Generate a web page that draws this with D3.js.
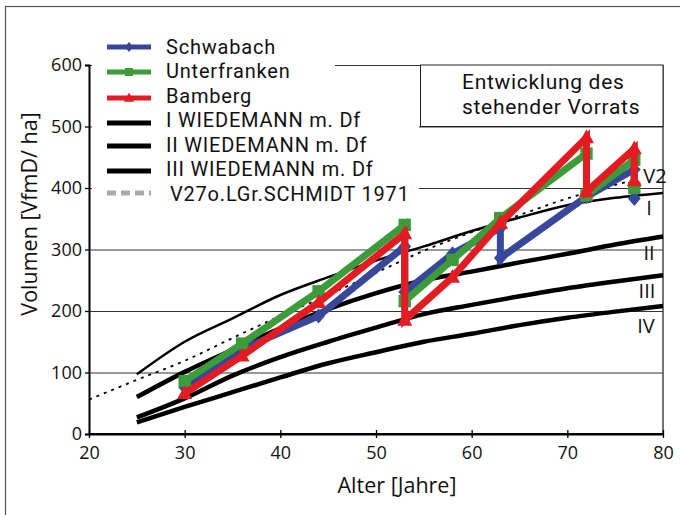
<!DOCTYPE html>
<html><head><meta charset="utf-8">
<script src="https://cdn.jsdelivr.net/npm/d3@7"></script>
<style>
html,body{margin:0;padding:0;background:#fff;}
svg{display:block;font-family:"Open Sans",sans-serif;}
</style></head>
<body>
<svg id="chart" width="680" height="515"></svg>
<script>
// ---------- data ----------
const ages = [30, 36, 44, 53, 53, 58, 63, 63, 72, 72, 77, 77];
const schwabach    = [76, 138, 192, 305, 231, 293, 335, 286, 386, 386, 430, 383];
const unterfranken = [86, 147, 232, 340, 216, 283, 351, 351, 456, 388, 446, 400];
const bamberg      = [66, 127, 214, 326, 185, 255, 343, 343, 482, 394, 464, 412];

const refAges = [25, 30, 35, 40, 45, 50, 55, 60, 65, 70, 75, 80];
const wiedemannI   = [97, 150, 188, 226, 255, 282, 305, 330, 352, 372, 384, 392];
const wiedemannII  = [60, 101, 137, 172, 203, 229, 250, 264, 279, 293, 308, 321];
const wiedemannIII = [27, 58, 95, 125, 150, 173, 195, 210, 224, 237, 248, 258];
const wiedemannIV  = [19, 44, 68, 92, 115, 133, 150, 163, 177, 189, 199, 208];

const schmidtAges = [20, 25, 30, 35, 40, 45, 50, 55, 60, 65, 70, 75, 77];
const schmidtV2   = [56, 88, 119, 156, 192, 226, 262, 298, 328, 356, 383, 405, 413];

const xTicks = [20, 30, 40, 50, 60, 70, 80];
const yTicks = [0, 100, 200, 300, 400, 500, 600];

const legendLabels = ["Schwabach", "Unterfranken", "Bamberg",
  "I WIEDEMANN m. Df", "II WIEDEMANN m. Df", "III WIEDEMANN m. Df", "V27o.LGr.SCHMIDT 1971"];
const curveLabels = ["V2", "I", "II", "III", "IV"];
const titleLines = ["Entwicklung des", "stehender Vorrats"];

// ---------- setup ----------
const svg = d3.select("#chart");
const L = 89, R = 663, T = 65, B = 434;
const x = d3.scaleLinear().domain([20, 80]).range([L, R]);
const y = d3.scaleLinear().domain([0, 600]).range([B, T]);

const BLUE = "#36479c", GREEN = "#3c9c3a", RED = "#e31b23";

// outer frame
svg.append("rect").attr("x", 5.5).attr("y", 6.5).attr("width", 720).attr("height", 560)
  .attr("fill", "none").attr("stroke", "#555").attr("stroke-width", 1.2);

// gridlines
svg.append("g").attr("transform", `translate(${L},0)`)
  .call(d3.axisRight(y).tickValues(yTicks.slice(1)).tickSize(R - L).tickFormat(""))
  .call(g => g.select(".domain").remove())
  .call(g => g.selectAll("line").attr("stroke", "#333").attr("stroke-width", 1));

// right border
svg.append("line").attr("x1", R).attr("x2", R).attr("y1", T).attr("y2", B)
  .attr("stroke", "#444").attr("stroke-width", 1.5);

// reference curves
const refLine = d3.line().x((d, i) => x(refAges[i])).y(d => y(d)).curve(d3.curveMonotoneX);
const refs = [[wiedemannI, 2.5], [wiedemannII, 4.5], [wiedemannIII, 4.5], [wiedemannIV, 4.5]];
refs.forEach(([vals, w]) => {
  svg.append("path").attr("d", refLine(vals)).attr("fill", "none")
    .attr("stroke", "#000").attr("stroke-width", w).attr("stroke-linejoin", "round");
});
const schLine = d3.line().x((d, i) => x(schmidtAges[i])).y(d => y(d)).curve(d3.curveMonotoneX);
svg.append("path").attr("d", schLine(schmidtV2)).attr("fill", "none")
  .attr("stroke", "#000").attr("stroke-width", 1.8).attr("stroke-dasharray", "3,5");

// symbols
function diamond(s) { return `M0,${-s}L${s*0.85},0L0,${s}L${-s*0.85},0Z`; }
function square(s) { return `M${-s},${-s}H${s}V${s}H${-s}Z`; }
function triangle(s) { return `M0,${-s*1.1}L${s},${s*0.75}L${-s},${s*0.75}Z`; }

const seriesDefs = [
  {vals: schwabach, color: BLUE, sym: diamond, size: 7.5},
  {vals: unterfranken, color: GREEN, sym: square, size: 6.2},
  {vals: bamberg, color: RED, sym: triangle, size: 7.5}
];
const dataLine = d3.line().x((d, i) => x(ages[i])).y(d => y(d));
seriesDefs.forEach(s => {
  const g = svg.append("g");
  g.append("path").attr("d", dataLine(s.vals)).attr("fill", "none")
    .attr("stroke", s.color).attr("stroke-width", 7).attr("stroke-linejoin", "miter");
  g.selectAll("path.m").data(s.vals).join("path").attr("class", "m")
    .attr("transform", (d, i) => `translate(${x(ages[i])},${y(d)})`)
    .attr("d", s.sym(s.size)).attr("fill", s.color);
});

// axes
const xAxis = svg.append("g").attr("transform", `translate(0,${B})`)
  .call(d3.axisBottom(x).tickValues(xTicks).tickSize(0).tickFormat(d3.format("d")));
xAxis.select(".domain").attr("stroke", "#000").attr("stroke-width", 2);
xAxis.selectAll(".tick line").remove();
xAxis.selectAll(".tick").append("line").attr("y1", -4).attr("y2", 4).attr("stroke", "#000").attr("stroke-width", 1.3);
xAxis.selectAll("text").attr("y", 25).attr("dy", 0).attr("font-size", 18).attr("fill", "#111")
  .attr("font-family", "Open Sans");

const yAxis = svg.append("g").attr("transform", `translate(${L},0)`)
  .call(d3.axisLeft(y).tickValues(yTicks).tickSize(4).tickPadding(3).tickFormat(d3.format("d")));
yAxis.select(".domain").attr("stroke", "#000").attr("stroke-width", 2);
yAxis.selectAll(".tick line").attr("stroke", "#000").attr("stroke-width", 1.3);
yAxis.selectAll("text").attr("font-size", 18).attr("fill", "#111").attr("font-family", "Open Sans");
svg.append("line").attr("x1", L).attr("x2", R).attr("y1", B).attr("y2", B).attr("stroke", "#000").attr("stroke-width", 2);

// axis titles
svg.append("text").attr("x", 397).attr("y", 493).attr("text-anchor", "middle")
  .attr("font-size", 21.5).attr("fill", "#111").text("Alter [Jahre]");
svg.append("text").attr("transform", "translate(37,214) rotate(-90)").attr("text-anchor", "middle")
  .attr("font-size", 21.5).attr("fill", "#111").text("Volumen [VfmD/ ha]");

// curve labels
const clPos = [[655, 183], [649, 215], [649, 260], [647, 298], [646, 333]];
curveLabels.forEach((t, i) => {
  svg.append("text").attr("x", clPos[i][0]).attr("y", clPos[i][1]).attr("text-anchor", "middle")
    .attr("font-size", 20).attr("fill", "#111").text(t);
});

// title box
svg.append("rect").attr("x", 420.5).attr("y", T).attr("width", R - 420.5).attr("height", y(500) - T)
  .attr("fill", "#fff").attr("stroke", "#222").attr("stroke-width", 1);
titleLines.forEach((t, i) => {
  svg.append("text").attr("x", 462).attr("y", 89 + i * 25).attr("font-size", 21)
    .attr("font-family", "Roboto").attr("letter-spacing", 0.7)
    .attr("fill", "#111").text(t);
});

// legend (white background)
svg.append("rect").attr("x", 92).attr("y", 28).attr("width", 335 - 92).attr("height", 40).attr("fill", "#fff");
svg.append("rect").attr("x", 92).attr("y", 66).attr("width", 419 - 92).attr("height", 140).attr("fill", "#fff");
const legG = svg.append("g");
const legendRowY = [47, 72, 98, 123, 146, 171, 193];
const legendTextY = [54, 78, 103, 127, 152, 176, 201];
const legendStyle = [
  {color: BLUE, sym: diamond, size: 5, w: 5},
  {color: GREEN, sym: square, size: 4, w: 5},
  {color: RED, sym: triangle, size: 5, w: 5},
  {color: "#000", w: 5},
  {color: "#000", w: 5},
  {color: "#000", w: 5},
  {color: "#aaa", w: 5, dash: "9,5"}
];
legendLabels.forEach((lab, i) => {
  const st = legendStyle[i];
  legG.append("line").attr("x1", 107).attr("x2", 151).attr("y1", legendRowY[i]).attr("y2", legendRowY[i])
    .attr("stroke", st.color).attr("stroke-width", st.w).attr("stroke-dasharray", st.dash || null);
  if (st.sym) legG.append("path").attr("transform", `translate(129,${legendRowY[i]})`)
    .attr("d", st.sym(st.size)).attr("fill", st.color);
  legG.append("text").attr("x", i === 6 ? 170 : 166).attr("y", legendTextY[i]).attr("font-size", 20)
    .attr("font-family", "Roboto").attr("letter-spacing", 0.8)
    .attr("fill", "#111").text(lab);
});
</script>
</body></html>
